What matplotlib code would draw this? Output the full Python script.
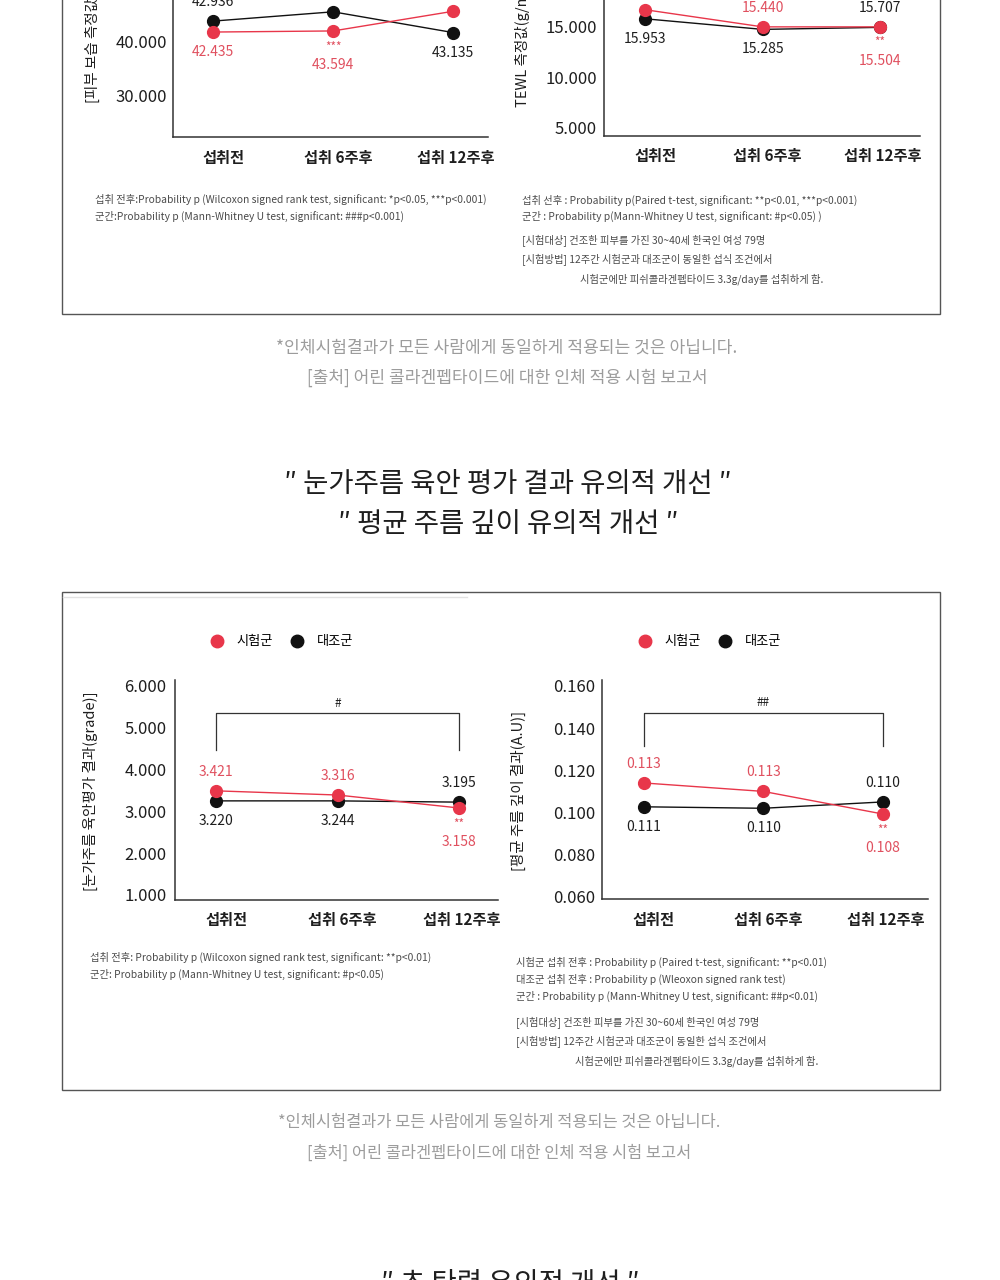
import matplotlib
matplotlib.use('Agg')
import matplotlib.pyplot as plt
import matplotlib.transforms as mtrans
from matplotlib.lines import Line2D
from matplotlib.patches import Rectangle

plt.rcParams['font.family'] = ['Noto Sans CJK KR', 'DejaVu Sans']

RED = '#e8364a'
RED_TXT = '#e0505f'
INK = '#1e1e1e'
NOTE = '#4a4a4a'
GREY = '#9c9c9c'

W, H = 1000, 1280

weeks = ['섭취전', '섭취 6주후', '섭취 12주후']
groups = ['시험군', '대조군']

# skin moisture (top left, cut off by the crop)
moist_test = [41.7, 41.9, 45.5]
moist_ctrl = [43.7, 45.4, 41.6]
moist_labels = [('ctrl', 0, '42.936', 'up'), ('test', 0, '42.435', 'down'),
                ('test', 1, '***', 'star'), ('test', 1, '43.594', 'down2'),
                ('ctrl', 2, '43.135', 'down')]

# TEWL (top right, cut off by the crop)
tewl_test = [16.7, 15.0, 15.0]
tewl_ctrl = [15.8, 14.75, 14.95]
tewl_labels = [('ctrl', 0, '15.953', 'down'), ('test', 1, '15.440', 'up'),
               ('ctrl', 1, '15.285', 'down'), ('ctrl', 2, '15.707', 'up'),
               ('test', 2, '**', 'star'), ('test', 2, '15.504', 'down2')]

# eye wrinkle visual grade
grade_test = [3.49, 3.39, 3.08]
grade_ctrl = [3.25, 3.25, 3.22]
grade_labels = [('test', 0, '3.421', 'up'), ('test', 1, '3.316', 'up'),
                ('ctrl', 2, '3.195', 'up'), ('ctrl', 0, '3.220', 'down'),
                ('ctrl', 1, '3.244', 'down'), ('test', 2, '**', 'star'),
                ('test', 2, '3.158', 'down2')]

# mean wrinkle depth
depth_test = [0.114, 0.110, 0.0993]
depth_ctrl = [0.1027, 0.102, 0.105]
depth_labels = [('test', 0, '0.113', 'up'), ('test', 1, '0.113', 'up'),
                ('ctrl', 2, '0.110', 'up'), ('ctrl', 0, '0.111', 'down'),
                ('ctrl', 1, '0.110', 'down'), ('test', 2, '**', 'star'),
                ('test', 2, '0.108', 'down2')]

OFFS = {'up': 19, 'down': -20, 'star': -16, 'down2': -34}
XLAB_SHIFT = [10, 5, 3]  # px, week labels sit a bit right of the points

fig = plt.figure(figsize=(10, 12.8), dpi=100)
fig.patch.set_facecolor('white')

# background layer in pixel coords for boxes and text
bg = fig.add_axes([0, 0, 1, 1], zorder=-1)
bg.set_xlim(0, W)
bg.set_ylim(H, 0)
bg.axis('off')


def chart(box, ylim, yticks, xlim, test, ctrl, labels, ypad):
    l, t, r, b = box
    ax = fig.add_axes([l / W, 1 - b / H, (r - l) / W, (b - t) / H])
    ax.set_facecolor('none')
    x = range(len(weeks))
    ax.plot(x, ctrl, color='#111111', lw=1.0, marker='o', ms=8.5, zorder=3)
    ax.plot(x, test, color=RED, lw=1.0, marker='o', ms=8.5, zorder=4)
    series = {'test': test, 'ctrl': ctrl}
    for s, i, txt, where in labels:
        ax.annotate(txt, (i, series[s][i]), xytext=(0, OFFS[where]),
                    textcoords='offset pixels', ha='center', va='center',
                    fontsize=8.5 if where == 'star' else 10,
                    color=RED_TXT if s == 'test' else INK,
                    annotation_clip=False, zorder=5)
    ax.set_xlim(*xlim)
    ax.set_ylim(*ylim)
    ax.set_yticks(yticks)
    ax.set_yticklabels([f'{v:.3f}' for v in yticks], fontsize=12, color=INK)
    ax.set_xticks(list(x))
    ax.set_xticklabels(weeks, fontsize=11, color=INK, fontweight='bold')
    ax.tick_params(axis='both', length=0)
    ax.tick_params(axis='y', pad=ypad)
    ax.tick_params(axis='x', pad=9)
    for lab, dx in zip(ax.get_xticklabels(), XLAB_SHIFT):
        lab.set_transform(lab.get_transform() +
                          mtrans.ScaledTranslation(dx / 100, 0, fig.dpi_scale_trans))
    for sp in ['top', 'right']:
        ax.spines[sp].set_visible(False)
    for sp in ['left', 'bottom']:
        ax.spines[sp].set_color('#333333')
        ax.spines[sp].set_linewidth(1.1)
    return ax


def legend(ax, xpx, ypx):
    hs = [Line2D([], [], ls='none', marker='o', ms=9, color=c) for c in (RED, '#111111')]
    ax.legend(hs, groups, loc='center left', bbox_to_anchor=(xpx / W, 1 - ypx / H),
              bbox_transform=fig.transFigure, ncol=2, frameon=False, fontsize=9.5,
              handlelength=1.0, handletextpad=1.0, columnspacing=1.3,
              borderpad=0, borderaxespad=0)


def bracket(ax, y_top, y_end, mark):
    ax.plot([0, 0, 2, 2], [y_end, y_top, y_top, y_end], color='#333333', lw=0.9, zorder=2)
    ax.annotate(mark, (1, y_top), xytext=(0, 10), textcoords='offset pixels',
                ha='center', va='center', fontsize=8.5, color=INK)


# boxes
bg.add_patch(Rectangle((62, -20), 878, 334, fill=False, ec='#555555', lw=1.0))
bg.add_patch(Rectangle((62, 592), 878, 498, fill=False, ec='#555555', lw=1.0))
bg.plot([63, 467], [597, 597], color='#e2e2e2', lw=1.0)

# top charts (cropped)
a1 = chart((173, -68, 488, 137), (22.5, 60), [30, 40, 50, 60], (-0.333, 2.29),
           moist_test, moist_ctrl, moist_labels, 4)
a2 = chart((604, -74, 920, 136), (4.18, 25), [5, 10, 15, 20, 25], (-0.35, 2.34),
           tewl_test, tewl_ctrl, tewl_labels, 5)
bg.text(92, 103, '[피부 보습 측정값(A.U)]', rotation=90, ha='center', va='bottom',
        fontsize=10.5, color=INK)
bg.text(522, 107, 'TEWL 측정값(g/m²h)', rotation=90, ha='center', va='bottom',
        fontsize=10.5, color=INK)

# bottom charts
a3 = chart((175, 680, 498, 900), (0.88, 6.14), [1, 2, 3, 4, 5, 6], (-0.337, 2.32),
           grade_test, grade_ctrl, grade_labels, 6)
a4 = chart((602, 680, 928, 899), (0.059, 0.1628), [0.06, 0.08, 0.10, 0.12, 0.14, 0.16],
           (-0.35, 2.38), depth_test, depth_ctrl, depth_labels, 5)
bracket(a3, 5.35, 4.47, '#')
bracket(a4, 0.1472, 0.1316, '##')
legend(a3, 210.5, 642)
legend(a4, 638.5, 642)
bg.text(90, 791, '[눈가주름 육안평가 결과(grade)]', rotation=90, ha='center', va='center',
        fontsize=10.5, color=INK)
bg.text(518, 791, '[평균 주름 깊이 결과(A.U)]', rotation=90, ha='center', va='center',
        fontsize=10.5, color=INK)

# notes
notes = [
    (95, 199, '섭취 전후:Probability p (Wilcoxon signed rank test, significant: *p<0.05, ***p<0.001)'),
    (95, 216, '군간:Probability p (Mann-Whitney U test, significant: ###p<0.001)'),
    (522, 200, '섭취 선후 : Probability p(Paired t-test, significant: **p<0.01, ***p<0.001)'),
    (522, 216, '군간 : Probability p(Mann-Whitney U test, significant: #p<0.05) )'),
    (522, 241, '[시험대상] 건조한 피부를 가진 30~40세 한국인 여성 79명'),
    (522, 260, '[시험방법] 12주간 시험군과 대조군이 동일한 섭식 조건에서'),
    (580, 279, '시험군에만 피쉬콜라겐펩타이드 3.3g/day를 섭취하게 함.'),
    (90, 957, '섭취 전후: Probability p (Wilcoxon signed rank test, significant: **p<0.01)'),
    (90, 974, '군간: Probability p (Mann-Whitney U test, significant: #p<0.05)'),
    (516, 962, '시험군 섭취 전후 : Probability p (Paired t-test, significant: **p<0.01)'),
    (516, 979, '대조군 섭취 전후 : Probability p (Wleoxon signed rank test)'),
    (516, 996, '군간 : Probability p (Mann-Whitney U test, significant: ##p<0.01)'),
    (516, 1023, '[시험대상] 건조한 피부를 가진 30~60세 한국인 여성 79명'),
    (516, 1042, '[시험방법] 12주간 시험군과 대조군이 동일한 섭식 조건에서'),
    (575, 1061, '시험군에만 피쉬콜라겐펩타이드 3.3g/day를 섭취하게 함.'),
]
for x, y, s in notes:
    bg.text(x, y, s, ha='left', va='center', fontsize=7.4, color=NOTE)

# disclaimers
for y0, cx, fs in [(348, 507, 12.3), (1123, 499, 11.8)]:
    bg.text(cx, y0, '*인체시험결과가 모든 사람에게 동일하게 적용되는 것은 아닙니다.',
            ha='center', va='center', fontsize=fs, color=GREY)
    bg.text(cx, y0 + 30, '[출처] 어린 콜라겐펩타이드에 대한 인체 적용 시험 보고서',
            ha='center', va='center', fontsize=fs, color=GREY)

# headlines
bg.text(508, 485, '″ 눈가주름 육안 평가 결과 유의적 개선 ″', ha='center', va='center',
        fontsize=19.8, color=INK)
bg.text(508, 524, '″ 평균 주름 깊이 유의적 개선 ″', ha='center', va='center',
        fontsize=19.8, color=INK)
bg.text(510, 1284, '″ 초 탄력 유의적 개선 ″', ha='center', va='center',
        fontsize=19.8, color=INK)

fig.savefig('out.png', dpi=100)
